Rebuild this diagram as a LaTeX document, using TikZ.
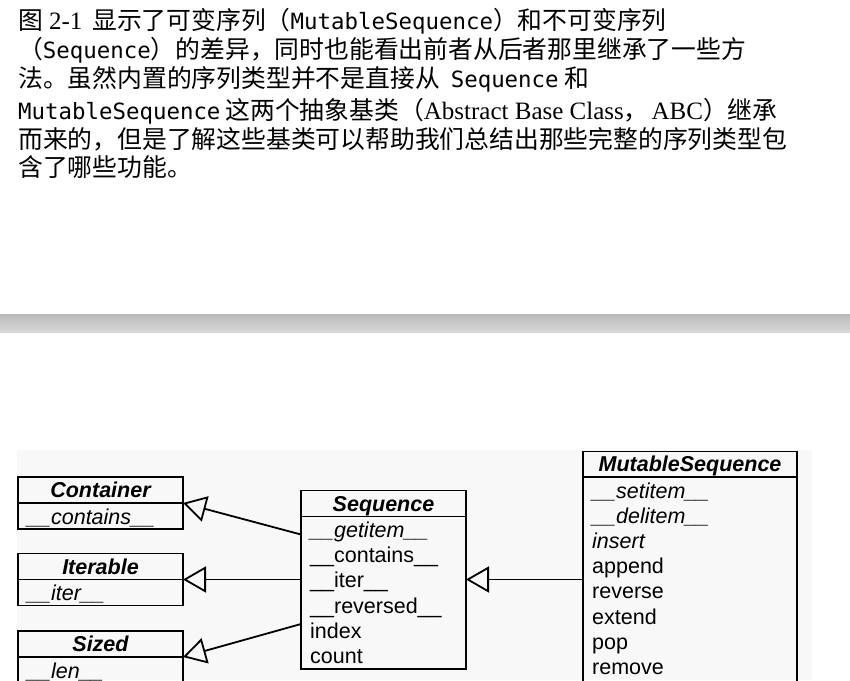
\documentclass[tikz,border=0pt]{standalone}
\usepackage{fontspec}
\usepackage{xcolor}
\usepackage{tikz}
\usetikzlibrary{arrows.meta,positioning}

\newfontfamily\cjkfont{Noto Sans CJK SC}
\newfontfamily\codefont{DejaVu Sans Mono}
\newfontfamily\romanfont{Liberation Serif}
\newfontfamily\umlfont{Liberation Sans}

\definecolor{bartop}{RGB}{186,186,186}
\definecolor{barmid}{RGB}{229,229,229}
\definecolor{barbot}{RGB}{216,216,216}
\definecolor{figback}{RGB}{248,248,248}

\newcommand{\codetxt}[1]{{\codefont\fontsize{22.4}{26}\selectfont #1}}
\newcommand{\romtxt}[1]{{\romanfont\fontsize{25}{28}\selectfont #1}}

\tikzset{
  txtline/.style={anchor=base west, inner sep=0pt, font=\cjkfont\fontsize{24.8}{30}\selectfont},
  classname/.style={draw, line width=1.8pt, outer sep=0pt, inner sep=0pt, anchor=north west,
    minimum height=26pt, text height=15pt, text depth=0pt,
    font=\umlfont\bfseries\itshape\fontsize{21.5}{25}\selectfont},
  classbody/.style={draw, line width=1.8pt, outer sep=0pt, inner sep=0pt},
  member/.style={anchor=base west, inner sep=0pt, font=\umlfont\fontsize{21.5}{25}\selectfont},
  inherit/.style={line width=1.8pt, -{Triangle[open, length=23pt, width=26pt]}},
}

\begin{document}
\begin{tikzpicture}[x=1pt,y=-1pt]
	\clip (0,0) rectangle (850,680);
	\fill[white] (0,0) rectangle (850,680);

	% text above the figure
	\node[txtline] (l1) at (18,29.4) {图\hspace{6pt}\romtxt{2-1}\hspace{10pt}显示了可变序列（\codetxt{MutableSequence}）和不可变序列};
	\node[txtline] (l2) at (18,58.4) {（\codetxt{Sequence}）的差异，同时也能看出前者从后者那里继承了一些方};
	\node[txtline] (l3) at (18,87.4) {法。虽然内置的序列类型并不是直接从\hspace{11pt}\codetxt{Sequence}\hspace{6pt}和};
	\node[txtline] (l4) at (18,119) {\codetxt{MutableSequence}\hspace{5pt}这两个抽象基类（\romtxt{Abstract Base Class}，\hspace{3pt}\romtxt{ABC}）继承};
	\node[txtline] (l5) at (18,148.4) {而来的，但是了解这些基类可以帮助我们总结出那些完整的序列类型包};
	\node[txtline] (l6) at (18,176.4) {含了哪些功能。};

	% page break bar
	\shade[top color=bartop, middle color=barmid, bottom color=barbot] (0,314) rectangle (850,332);

	% figure
	\fill[figback] (17,450) rectangle (812,680);

	\node[classname, minimum width=165pt] (conttitle) at (18,477) {Container};
	\node[classbody, minimum width=165pt, minimum height=26pt, below=0pt of conttitle] (contbody) {};
	\node[member] (contm) at ([xshift=9pt,yshift=-21pt]contbody.north west) {\itshape\_\_contains\_\_};

	\node[classname, minimum width=165pt] (itertitle) at (18,553.5) {Iterable};
	\node[classbody, minimum width=165pt, minimum height=26pt, below=0pt of itertitle] (iterbody) {};
	\node[member] (iterm) at ([xshift=9pt,yshift=-21pt]iterbody.north west) {\itshape\_\_iter\_\_};

	\node[classname, minimum width=165pt] (sizedtitle) at (18,631) {Sized};
	\node[classbody, minimum width=165pt, minimum height=32pt, below=0pt of sizedtitle] (sizedbody) {};
	\node[member] (sizedm) at ([xshift=9pt,yshift=-21pt]sizedbody.north west) {\itshape\_\_len\_\_};

	\node[classname, minimum width=165pt] (seqtitle) at (301,490.5) {Sequence};
	\node[classbody, minimum width=165pt, minimum height=152.5pt, below=0pt of seqtitle] (seqbody) {};
	\foreach \m [count=\i from 0] in {{\itshape\_\_getitem\_\_},\_\_contains\_\_,\_\_iter\_\_,\_\_reversed\_\_,index,count}
		\node[member] (seqm\i) at ([xshift=9pt,yshift={-21pt-25.2pt*\i}]seqbody.north west) {\m};

	\node[classname, minimum width=214pt, minimum height=25.5pt] (muttitle) at (583,451.5) {MutableSequence};
	\node[classbody, minimum width=214pt, minimum height=215pt, below=0pt of muttitle] (mutbody) {};
	\foreach \m [count=\i from 0] in {{\itshape\_\_setitem\_\_},{\itshape\_\_delitem\_\_},{\itshape insert},append,reverse,extend,pop,remove}
		\node[member] (mutm\i) at ([xshift=9pt,yshift={-21pt-25.2pt*\i}]mutbody.north west) {\m};

	% inheritance
	\draw[inherit] ([yshift=-18pt]seqbody.north west) -- (conttitle.south east);
	\draw[inherit] (seqbody.west |- itertitle.south) -- (itertitle.south east);
	\draw[inherit] ([yshift=-107.5pt]seqbody.north west) -- (sizedtitle.south east);
	\draw[inherit] (mutbody.west |- itertitle.south) -- (seqbody.east |- itertitle.south);
\end{tikzpicture}
\end{document}
